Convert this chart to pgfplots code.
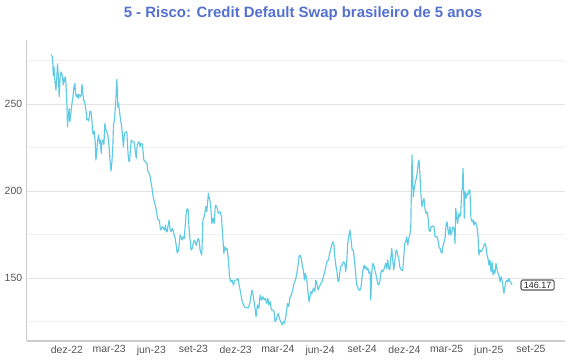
\documentclass[border=0pt]{standalone}
\usepackage{fontspec}
\setmainfont{Liberation Sans}
\usepackage{pgfplots}
\usepackage{pgfplotstable}
\pgfplotsset{compat=1.18}
\definecolor{linec}{RGB}{94,202,228}
\definecolor{titlec}{RGB}{84,112,206}
\definecolor{tickc}{RGB}{85,85,85}
\definecolor{majg}{RGB}{228,228,228}
\definecolor{ming}{RGB}{240,240,240}
\definecolor{axc}{RGB}{204,204,204}
% x = months since 1 Dec 2022, v = CDS (bp)
\pgfplotstableread{
m v
-1.12 278.7
-1.02 276.8
-0.97 266.4
-0.92 271.6
-0.85 263.0
-0.78 258.2
-0.71 266.8
-0.67 273.3
-0.60 265.0
-0.55 254.4
-0.48 265.9
-0.41 268.7
-0.33 266.8
-0.26 261.1
-0.21 264.9
-0.17 263.0
-0.12 265.9
-0.07 262.0
0.00 249.6
0.04 237.1
0.11 243.9
0.16 247.7
0.21 240.0
0.28 244.8
0.36 250.6
0.43 254.4
0.50 260.1
0.57 262.0
0.61 256.3
0.68 254.4
0.75 255.7
0.80 253.4
0.87 255.7
0.95 254.4
1.02 255.3
1.07 261.5
1.11 258.2
1.18 252.5
1.25 251.9
1.30 249.6
1.37 245.7
1.42 241.0
1.49 241.6
1.56 240.4
1.63 246.1
1.71 245.7
1.78 241.0
1.82 233.9
1.89 232.8
1.94 234.7
2.01 228.5
2.06 218.0
2.13 222.8
2.17 228.5
2.25 232.4
2.32 227.6
2.37 229.5
2.44 221.8
2.49 228.5
2.56 229.5
2.63 227.0
2.70 239.1
2.77 235.2
2.84 234.3
2.91 232.4
2.99 226.6
3.06 218.0
3.13 211.7
3.20 217.0
3.27 226.6
3.31 238.1
3.38 241.0
3.43 246.7
3.48 252.5
3.55 264.4
3.60 255.3
3.62 248.6
3.67 250.6
3.74 246.1
3.81 241.2
3.88 238.1
3.95 232.4
4.02 225.6
4.09 233.3
4.19 233.9
4.26 234.3
4.31 226.6
4.38 218.0
4.45 217.0
4.50 222.0
4.57 229.5
4.69 228.5
4.78 228.3
4.93 219.0
5.00 226.6
5.12 228.5
5.21 225.7
5.28 227.5
5.37 227.2
5.47 218.0
5.54 217.4
5.61 216.8
5.69 216.1
5.76 211.3
5.85 210.4
5.92 208.5
5.99 204.6
6.04 202.7
6.11 197.9
6.18 195.1
6.28 192.1
6.37 188.3
6.44 184.5
6.51 183.5
6.58 183.5
6.65 177.8
6.72 178.7
6.79 179.7
6.87 178.7
6.94 177.8
7.01 180.6
7.06 176.8
7.13 176.8
7.20 180.6
7.27 183.5
7.34 177.8
7.41 176.8
7.48 178.7
7.55 177.8
7.63 174.9
7.70 172.9
7.77 169.1
7.84 164.7
7.91 165.3
7.98 169.1
8.05 174.9
8.12 173.9
8.19 172.0
8.27 173.9
8.34 172.9
8.41 180.0
8.48 187.4
8.55 190.0
8.62 189.5
8.69 177.8
8.76 172.0
8.83 166.3
8.91 167.2
8.98 170.1
9.05 172.0
9.12 171.0
9.19 169.0
9.26 171.0
9.33 173.0
9.40 172.0
9.47 166.3
9.54 164.4
9.59 163.4
9.67 183.5
9.76 185.4
9.88 191.2
9.95 188.3
10.06 198.9
10.13 196.0
10.21 193.1
10.31 181.6
10.38 184.5
10.47 181.6
10.56 192.1
10.66 191.2
10.77 187.4
10.90 188.3
10.99 185.4
11.09 173.0
11.16 164.4
11.23 168.2
11.30 166.3
11.39 167.2
11.49 160.5
11.56 150.9
11.66 148.0
11.75 149.0
11.84 146.1
11.96 149.0
12.08 149.0
12.17 150.0
12.25 146.1
12.32 143.3
12.44 137.5
12.55 134.7
12.67 133.3
12.79 133.1
12.91 133.1
13.03 136.5
13.10 140.4
13.17 143.3
13.24 140.4
13.31 136.5
13.38 132.7
13.45 127.9
13.55 134.7
13.65 132.7
13.74 140.4
13.83 137.5
13.93 139.5
14.02 137.5
14.11 138.5
14.21 135.6
14.29 138.5
14.36 134.7
14.45 136.6
14.54 131.8
14.64 131.8
14.73 130.9
14.80 125.1
14.88 126.1
14.95 128.0
15.04 129.9
15.11 127.0
15.21 125.1
15.30 123.2
15.39 125.1
15.47 124.2
15.59 129.0
15.68 135.6
15.78 133.7
15.87 139.4
15.96 140.4
16.06 143.3
16.15 147.1
16.25 149.0
16.35 152.9
16.44 157.6
16.51 162.8
16.58 163.4
16.67 161.5
16.74 156.7
16.82 154.8
16.89 149.0
16.96 152.9
17.06 149.0
17.15 141.4
17.22 136.6
17.29 139.5
17.36 142.4
17.43 141.4
17.53 144.3
17.63 142.4
17.70 149.0
17.77 147.1
17.86 143.3
17.95 145.2
18.05 147.1
18.14 148.0
18.24 150.9
18.34 153.8
18.41 156.7
18.48 159.5
18.59 160.5
18.71 165.3
18.81 168.2
18.90 171.0
18.98 170.1
19.05 162.4
19.12 157.6
19.19 154.8
19.26 149.0
19.33 148.0
19.40 152.9
19.47 156.7
19.57 157.6
19.66 159.5
19.76 158.6
19.83 153.8
19.90 159.5
19.97 170.1
20.06 174.9
20.13 177.8
20.21 172.0
20.28 166.3
20.37 166.3
20.47 158.6
20.54 151.9
20.61 146.1
20.68 145.2
20.75 143.3
20.85 143.3
20.92 145.2
20.99 150.9
21.06 154.8
21.13 157.6
21.20 155.7
21.27 156.7
21.34 154.8
21.41 155.7
21.48 152.9
21.56 153.8
21.61 137.5
21.68 153.8
21.75 158.6
21.82 157.6
21.89 154.8
21.96 152.9
22.03 150.0
22.10 147.1
22.17 146.1
22.25 148.0
22.32 152.9
22.39 154.8
22.46 153.8
22.53 154.8
22.60 156.7
22.67 158.6
22.74 155.7
22.81 160.5
22.89 155.7
22.96 154.8
23.03 161.5
23.10 167.2
23.17 160.5
23.24 154.8
23.31 159.5
23.38 165.3
23.45 166.3
23.52 163.4
23.60 161.5
23.67 156.7
23.74 155.4
23.81 154.8
23.88 154.4
23.95 161.5
24.02 170.1
24.09 171.0
24.16 173.9
24.24 169.1
24.31 172.9
24.38 174.9
24.45 178.7
24.49 197.9
24.54 220.9
24.59 207.5
24.63 196.9
24.70 201.7
24.78 205.5
24.85 207.5
24.92 211.3
24.99 217.0
25.04 218.0
25.11 208.5
25.18 197.9
25.25 191.2
25.32 194.1
25.39 196.0
25.46 190.2
25.54 187.4
25.61 188.3
25.68 185.0
25.75 177.8
25.82 176.8
25.89 179.7
25.96 179.7
26.03 180.2
26.10 179.7
26.18 173.9
26.25 173.9
26.32 173.9
26.39 172.0
26.46 168.2
26.53 167.2
26.60 165.3
26.67 164.4
26.74 168.2
26.82 171.0
26.89 172.9
26.96 180.6
27.03 182.5
27.10 177.8
27.17 174.9
27.24 179.7
27.31 174.9
27.38 176.8
27.45 179.7
27.53 178.7
27.60 170.1
27.65 190.2
27.72 185.4
27.79 181.6
27.86 187.4
27.93 185.4
28.00 186.4
28.07 199.8
28.12 201.7
28.17 213.2
28.22 199.8
28.26 184.5
28.31 199.8
28.38 196.0
28.45 198.9
28.52 197.9
28.59 200.7
28.66 200.7
28.73 184.5
28.81 182.5
28.88 183.5
28.95 180.6
29.02 182.5
29.09 181.6
29.16 179.7
29.23 174.9
29.30 163.4
29.37 166.3
29.45 165.3
29.52 166.3
29.59 167.2
29.66 169.1
29.73 170.1
29.80 168.2
29.87 163.4
29.94 161.5
30.01 157.6
30.08 160.5
30.16 153.8
30.23 159.5
30.30 151.9
30.37 154.8
30.44 152.9
30.51 158.6
30.58 155.7
30.65 152.9
30.72 151.9
30.80 148.0
30.87 150.9
30.94 149.0
31.01 145.2
31.08 141.4
31.15 145.2
31.22 148.0
31.29 149.0
31.36 148.0
31.44 150.0
31.51 148.0
31.58 147.6
31.65 146.17
}\cds
\begin{document}
\begin{tikzpicture}
\useasboundingbox (-26.7bp,-19bp) rectangle (543.3bp,341bp);
\begin{axis}[
  scale only axis,
  width=538.3bp, height=301bp,
  at={(0,0)}, anchor=south west,
  xmin=-2.86, xmax=35.42,
  ymin=114, ymax=287,
  axis x line*=bottom, axis y line*=left,
  x axis line style={draw=axc, line width=1.3pt, -},
  y axis line style={draw=axc, line width=0.8pt, -},
  xtick={0,3,...,33},
  xticklabels={dez-22,mar-23,jun-23,set-23,dez-23,mar-24,jun-24,set-24,dez-24,mar-25,jun-25,set-25},
  ytick={150,200,250},
  minor ytick={125,175,225,275},
  ymajorgrids, yminorgrids,
  major grid style={draw=majg, line width=0.8pt},
  minor grid style={draw=ming, line width=0.8pt},
  major tick length=0pt, minor tick length=0pt,
  tick label style={font=\fontsize{10.5}{12}\selectfont, text=tickc},
  /pgf/number format/assume math mode=true,
  xticklabel style={yshift=-1bp},
  yticklabel style={xshift=-1bp},
]
\addplot[color=linec, line width=1.15pt, line join=round] table[x=m, y=v] {\cds}
  node[pos=1, anchor=west, xshift=8.5bp, draw=black!65, fill=white, rounded corners=1.5pt,
       inner xsep=2.8bp, inner ysep=1.8bp, font=\fontsize{9}{10}\selectfont, text=black!85] {146.17};
\end{axis}
\node[font=\bfseries\fontsize{15}{18}\selectfont, text=titlec] at (276.3bp,327bp) {5 - Risco: Credit Default Swap brasileiro de 5 anos};
\end{tikzpicture}
\end{document}
